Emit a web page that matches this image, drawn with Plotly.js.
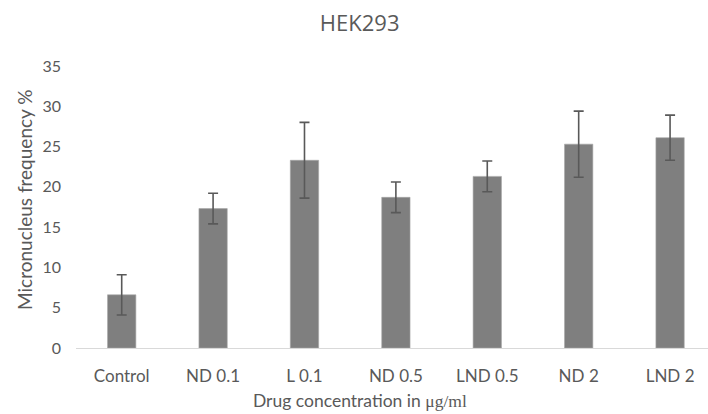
<!DOCTYPE html>
<html>
<head>
<meta charset="utf-8">
<script src="https://cdn.plot.ly/plotly-3.0.1.min.js"></script>
<style>html,body{margin:0;padding:0;background:#fff;}</style>
</head>
<body>
<div id="chart" style="width:708px;height:414px;"></div>
<script>
const categories = ["Control", "ND 0.1", "L 0.1", "ND 0.5", "LND 0.5", "ND 2", "LND 2"];
const frequency = [6.6, 17.3, 23.3, 18.7, 21.3, 25.3, 26.1];
const errors = [2.5, 1.9, 4.7, 1.9, 1.9, 4.1, 2.8];
const yTicks = [0, 5, 10, 15, 20, 25, 30, 35];

const textColor = "#595959";
const font = "Lato, 'Open Sans', sans-serif";

const trace = {
  type: "bar",
  x: categories,
  y: frequency,
  marker: {color: "#7f7f7f", line: {color: "#a6a6a6", width: 0.6}},
  error_y: {type: "data", array: errors, visible: true, color: "#595959", thickness: 1.6, width: 5},
  hoverinfo: "none"
};

const layout = {
  width: 708,
  height: 414,
  margin: {l: 76, r: 0, t: 66, b: 66},
  paper_bgcolor: "#ffffff",
  plot_bgcolor: "#ffffff",
  bargap: 0.69,
  showlegend: false,
  title: {
    text: "HEK293",
    font: {family: "'Open Sans', sans-serif", size: 22, color: textColor},
    x: 0.508, xanchor: "center", y: 0.943, yanchor: "middle"
  },
  xaxis: {
    type: "category",
    range: [-0.5, 6.415],
    showline: true, linecolor: "#d9d9d9", linewidth: 1,
    showgrid: false, zeroline: false,
    ticks: "", ticklabelstandoff: 13,
    tickfont: {family: font, size: 17, color: textColor}
  },
  yaxis: {
    range: [0, 35],
    tickvals: yTicks,
    ticktext: yTicks.map(String),
    showline: false, showgrid: false, zeroline: false,
    ticks: "", ticklabelstandoff: 14,
    tickfont: {family: font, size: 16, color: textColor}
  },
  annotations: [
    {
      text: "Drug concentration in <span style=\"font-family:'Liberation Serif',serif\">μg/ml</span>",
      xref: "paper", yref: "paper",
      x: (360 - 76) / 632, y: -(400 - 348) / 282,
      xanchor: "center", yanchor: "middle", showarrow: false,
      font: {family: font, size: 17.5, color: textColor}
    },
    {
      text: "Micronucleus frequency %",
      xref: "paper", yref: "paper",
      x: -(76 - 24) / 632, y: (348 - 200) / 282,
      xanchor: "center", yanchor: "middle", showarrow: false, textangle: -90,
      font: {family: font, size: 19, color: textColor}
    }
  ]
};

Plotly.newPlot("chart", [trace], layout, {displayModeBar: false, staticPlot: true});
</script>
</body>
</html>
